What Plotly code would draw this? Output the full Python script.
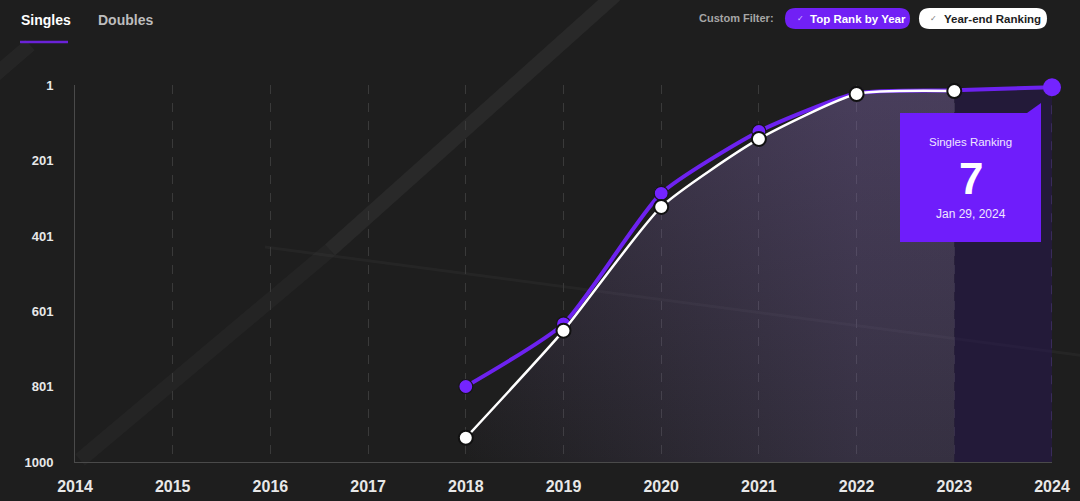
import plotly.graph_objects as go

# ---- data ----
years_top = [2018, 2019, 2020, 2021, 2022, 2023, 2024]
top_rank = [800, 634, 288, 124, 23, 15, 7]
years_ye = [2018, 2019, 2020, 2021, 2022, 2023]
ye_rank = [936, 652, 324, 144, 25, 17]
x_ticks = list(range(2014, 2025))
y_ticks = [1, 201, 401, 601, 801, 1000]
tooltip_title = "Singles Ranking"
tooltip_value = "7"
tooltip_date = "Jan 29, 2024"

W, H = 1080, 501
ML, MR, MT, MB = 75, 28, 85, 39
PW, PH = W - ML - MR, H - MT - MB
BG = "#1e1e1e"
PURPLE = "#6d22f0"
MARK = "#7424ff"
FONT = "Liberation Sans, Arial, sans-serif"


def X(px):
    return (px - ML) / PW


def Y(py):
    return (H - MB - py) / PH


def rounded(x0, y0, x1, y1, r):
    pts = [
        f"M {X(x0 + r)} {Y(y0)}",
        f"L {X(x1 - r)} {Y(y0)}",
        f"Q {X(x1)} {Y(y0)} {X(x1)} {Y(y0 + r)}",
        f"L {X(x1)} {Y(y1 - r)}",
        f"Q {X(x1)} {Y(y1)} {X(x1 - r)} {Y(y1)}",
        f"L {X(x0 + r)} {Y(y1)}",
        f"Q {X(x0)} {Y(y1)} {X(x0)} {Y(y1 - r)}",
        f"L {X(x0)} {Y(y0 + r)}",
        f"Q {X(x0)} {Y(y0)} {X(x0 + r)} {Y(y0)}",
        "Z",
    ]
    return " ".join(pts)


fig = go.Figure()
spl = dict(shape="spline", smoothing=0.55)

# fill under year-end line (horizontal fade)
fig.add_trace(go.Scatter(x=[years_ye[0], years_ye[-1]], y=[1000, 1000], mode="lines",
                         line=dict(width=0), showlegend=False, hoverinfo="skip"))
fig.add_trace(go.Scatter(x=years_ye, y=ye_rank, mode="lines", line=dict(width=0, **spl),
                         fill="tonexty",
                         fillgradient=dict(type="horizontal", start=years_ye[0], stop=2022,
                                           colorscale=[[0, "rgba(120,100,165,0.0)"],
                                                       [1, "rgba(120,100,165,0.26)"]]),
                         showlegend=False, hoverinfo="skip"))
# fill under year-end line (vertical fade)
fig.add_trace(go.Scatter(x=[years_ye[0], years_ye[-1]], y=[1000, 1000], mode="lines",
                         line=dict(width=0), showlegend=False, hoverinfo="skip"))
fig.add_trace(go.Scatter(x=years_ye, y=ye_rank, mode="lines", line=dict(width=0, **spl),
                         fill="tonexty",
                         fillgradient=dict(type="vertical", start=1, stop=1000,
                                           colorscale=[[0, "rgba(140,110,185,0.22)"],
                                                       [1, "rgba(140,110,185,0.0)"]]),
                         showlegend=False, hoverinfo="skip"))
# highlighted last segment
fig.add_trace(go.Scatter(x=years_top[-2:], y=[1000, 1000], mode="lines",
                         line=dict(width=0), showlegend=False, hoverinfo="skip"))
fig.add_trace(go.Scatter(x=years_top[-2:], y=top_rank[-2:], mode="lines", line=dict(width=0),
                         fill="tonexty", fillcolor="rgba(42,22,90,0.45)",
                         showlegend=False, hoverinfo="skip"))

# purple line
sizes = [14] * (len(top_rank) - 1) + [18]
lw = [1.2] * (len(top_rank) - 1) + [0]
fig.add_trace(go.Scatter(x=years_top, y=top_rank, mode="lines+markers", name="Top Rank by Year",
                         line=dict(color=PURPLE, width=4, **spl),
                         marker=dict(size=sizes, color=MARK, opacity=1,
                                     line=dict(color="#161616", width=lw)),
                         cliponaxis=False, showlegend=False))
# white line
fig.add_trace(go.Scatter(x=years_ye, y=ye_rank, mode="lines+markers", name="Year-end Ranking",
                         line=dict(color="#ffffff", width=2.5, **spl),
                         marker=dict(size=14, color="#ffffff", line=dict(color="#111111", width=2)),
                         cliponaxis=False, showlegend=False))

shapes = []
# background streaks
shapes.append(dict(type="line", xref="paper", yref="paper", x0=X(330), y0=Y(250), x1=X(615), y1=Y(-5),
                   line=dict(color="rgba(255,255,255,0.05)", width=15), layer="below"))
shapes.append(dict(type="line", xref="paper", yref="paper", x0=X(80), y0=Y(460), x1=X(330), y1=Y(250),
                   line=dict(color="rgba(255,255,255,0.028)", width=15), layer="below"))
shapes.append(dict(type="line", xref="paper", yref="paper", x0=X(265), y0=Y(247), x1=X(1085), y1=Y(356),
                   line=dict(color="rgba(255,255,255,0.03)", width=3), layer="below"))
shapes.append(dict(type="line", xref="paper", yref="paper", x0=X(-5), y0=Y(75), x1=X(30), y1=Y(45),
                   line=dict(color="rgba(255,255,255,0.035)", width=14), layer="below"))
# hover crosshair at last point
shapes.append(dict(type="line", xref="x", yref="y", x0=years_top[-1], x1=years_top[-1],
                   y0=top_rank[-1], y1=1000,
                   line=dict(color="rgba(140,115,200,0.6)", width=1.2, dash="dash"), layer="below"))
# tab underline
shapes.append(dict(type="line", xref="paper", yref="paper", x0=X(20), x1=X(68), y0=Y(42), y1=Y(42),
                   line=dict(color="#6a22d8", width=2.5)))
# filter pills
shapes.append(dict(type="path", xref="paper", yref="paper", path=rounded(785, 8, 910, 29, 10.5),
                   fillcolor="#7120f5", line=dict(width=0)))
shapes.append(dict(type="path", xref="paper", yref="paper", path=rounded(919, 8, 1047, 29, 10.5),
                   fillcolor="#ffffff", line=dict(width=0)))
# tooltip box
shapes.append(dict(type="rect", xref="paper", yref="paper", x0=X(900), x1=X(1041), y0=Y(113), y1=Y(242),
                   fillcolor="#6f1dfb", line=dict(width=0)))
shapes.append(dict(type="path", xref="paper", yref="paper",
                   path=f"M {X(1027)} {Y(113)} L {X(1041)} {Y(103)} L {X(1041)} {Y(113)} Z",
                   fillcolor="#6f1dfb", line=dict(width=0)))

ann = []


def txt(px, py, s, size, color, bold=False, anchor="left"):
    ann.append(dict(xref="paper", yref="paper", x=X(px), y=Y(py), text=f"<b>{s}</b>" if bold else s,
                    showarrow=False, xanchor=anchor, yanchor="middle",
                    font=dict(family=FONT, size=size, color=color)))


txt(19, 20, "Singles", 14, "#ffffff", True)
txt(96, 20, "Doubles", 14, "#bdbdbd", True)
txt(776, 18, "Custom Filter:", 11, "#a6a6a6", True, "right")
txt(795, 18.5, "✓", 8, "#d8c8ff")
txt(808, 18.5, "Top Rank by Year", 11.5, "#ffffff", True)
txt(928, 18.5, "✓", 8, "#777777")
txt(942, 18.5, "Year-end Ranking", 11.5, "#1e1e1e", True)
txt(970.5, 142, tooltip_title, 11.5, "#efe6ff", False, "center")
txt(970.5, 178, f"<b>{tooltip_value}</b>", 44, "#ffffff", False, "center")
txt(970.5, 214, tooltip_date, 12, "#efe6ff", False, "center")

fig.update_layout(
    width=W, height=H, autosize=False,
    margin=dict(l=ML, r=MR, t=MT, b=MB, pad=0, autoexpand=False),
    paper_bgcolor=BG, plot_bgcolor=BG,
    showlegend=False, hovermode=False,
    shapes=shapes, annotations=ann,
    font=dict(family=FONT),
)
fig.update_xaxes(range=[x_ticks[0], x_ticks[-1]], tickvals=x_ticks, ticktext=[str(v) for v in x_ticks],
                 showgrid=True, gridcolor="#3a3a3a", griddash="dash", gridwidth=1, automargin=False,
                 showline=True, linecolor="#4a4a4a", linewidth=1, zeroline=False, ticks="",
                 ticklabelstandoff=10,
                 tickfont=dict(family=FONT, size=16, color="#e8e8e8", weight="bold"))
fig.update_yaxes(range=[1000, 1], tickvals=y_ticks, ticktext=[str(v) for v in y_ticks],
                 showgrid=False, showline=True, linecolor="#4a4a4a", linewidth=1, zeroline=False,
                 ticks="", ticklabelstandoff=18, automargin=False,
                 tickfont=dict(family=FONT, size=13, color="#e8e8e8", weight="bold"))

fig.write_html(
    "out.html",
    config={"displayModeBar": False},
    post_script="document.body.style.margin='0';document.body.style.background='#1e1e1e';",
)
